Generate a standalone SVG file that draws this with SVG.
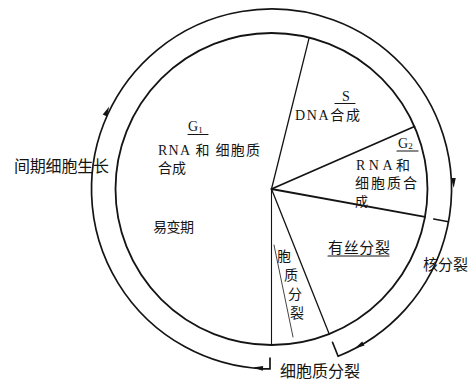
<svg xmlns="http://www.w3.org/2000/svg" xmlns:xlink="http://www.w3.org/1999/xlink" width="472" height="383" viewBox="0 0 472 383">
  <style>
    .ln { fill: none; stroke: #141414; stroke-linecap: round; }
    .t { font-family: "Liberation Serif", "Noto Sans CJK SC", serif; fill: #141414; font-size: 14px; }
    .c { font-family: "Noto Sans CJK SC", "Liberation Serif", sans-serif; fill: #141414; }
    .ah { fill: #141414; stroke: none; }
  </style>
  <defs>
    <path id="ah" d="M0,0 L-10,-2.4 L-10,2.4 Z"/>
  </defs>
  <rect x="0" y="0" width="472" height="383" fill="#ffffff"/>

  <!-- wheel -->
  <g id="wheel">
    <circle class="ln" cx="271.5" cy="189" r="156" stroke-width="1.8"/>
    <line class="ln" x1="271.5" y1="189" x2="309.2" y2="37.6" stroke-width="1.3"/>
    <line class="ln" x1="271.5" y1="189" x2="414.5" y2="126.5" stroke-width="1.8"/>
    <line class="ln" x1="271.5" y1="189" x2="425" y2="216.9" stroke-width="1.8"/>
    <line class="ln" x1="271.5" y1="189" x2="329.2" y2="334" stroke-width="1.3"/>
    <line class="ln" x1="271.5" y1="189" x2="271.5" y2="345" stroke-width="1.1"/>
    <line class="ln" x1="274" y1="245" x2="293" y2="337" stroke-width="0.8"/>
  </g>

  <!-- sector labels -->
  <g id="g1">
    <text class="t" x="188" y="131" font-size="13">G<tspan font-size="9" dy="2">1</tspan></text>
    <line class="ln" x1="188" y1="134.5" x2="208" y2="134.5" stroke-width="1.2"/>
    <text class="t" x="158" y="155" textLength="102" lengthAdjust="spacing">RNA 和 细胞质</text>
    <text class="c" x="158" y="173" font-size="14">合成</text>
    <text class="c" x="153" y="232" font-size="14" textLength="41" lengthAdjust="spacing">易变期</text>
  </g>
  <g id="s">
    <text class="t" x="342" y="101" font-size="13">S</text>
    <line class="ln" x1="335" y1="103.5" x2="355" y2="103.5" stroke-width="1.2"/>
    <text class="t" x="295" y="120" textLength="65" lengthAdjust="spacing">DNA合成</text>
  </g>
  <g id="g2">
    <text class="t" x="398" y="148" font-size="13">G<tspan font-size="9" dy="1">2</tspan></text>
    <line class="ln" x1="397" y1="151" x2="418" y2="151" stroke-width="1.2"/>
    <text class="t" x="356" y="170" textLength="54" lengthAdjust="spacing">RNA和</text>
    <text class="c" x="355" y="188" font-size="14" textLength="62" lengthAdjust="spacing">细胞质合</text>
    <text class="c" x="355" y="205.5" font-size="13">成</text>
  </g>
  <g id="mitosis">
    <text class="c" x="328" y="253" font-size="15" textLength="62" lengthAdjust="spacing">有丝分裂</text>
    <line class="ln" x1="328" y1="256" x2="389" y2="256" stroke-width="1.1"/>
  </g>
  <g id="cytokinesis-sector">
    <text class="c" x="284" y="261" font-size="14" text-anchor="middle">胞</text>
    <text class="c" x="291" y="280" font-size="14" text-anchor="middle">质</text>
    <text class="c" x="295" y="299" font-size="14" text-anchor="middle">分</text>
    <text class="c" x="297" y="318" font-size="14" text-anchor="middle">裂</text>
  </g>

  <!-- outer cycle connectors -->
  <g id="connectors">
    <path class="ln" d="M270,358 L270,368.8 L263.6,368.8 A180,180 0 1 1 338.1,356.2 L332.5,342.3" stroke-width="1.7"/>
    <line class="ln" x1="433.7" y1="219.1" x2="448.5" y2="221.8" stroke-width="1.5"/>
    <use xlink:href="#ah" class="ah" transform="translate(109.2,106.5) rotate(-64.4)"/>
    <use xlink:href="#ah" class="ah" transform="translate(453.7,188) rotate(88.1)"/>
    <use xlink:href="#ah" class="ah" transform="translate(354.7,348.5) rotate(150.2)"/>
    <use xlink:href="#ah" class="ah" transform="translate(253,367.6) rotate(184.3)"/>
  </g>

  <!-- outer labels -->
  <g id="interphase-label">
    <text class="c" x="14" y="172" font-size="16" textLength="95" lengthAdjust="spacing">间期细胞生长</text>
  </g>
  <g id="karyokinesis-label">
    <text class="c" x="423" y="270" font-size="15" textLength="45" lengthAdjust="spacing">核分裂</text>
  </g>
  <g id="cytokinesis-label">
    <text class="c" x="280" y="377" font-size="16" textLength="80" lengthAdjust="spacing">细胞质分裂</text>
  </g>
</svg>
